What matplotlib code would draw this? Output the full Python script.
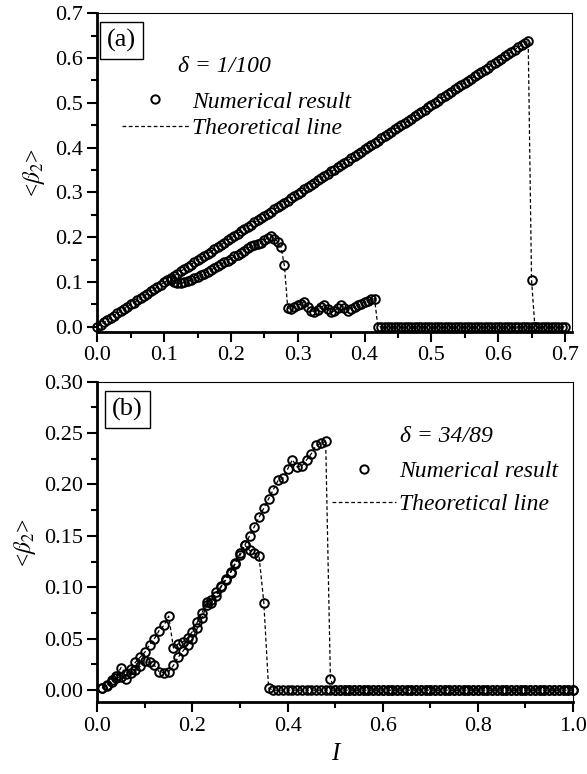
import numpy as np
import matplotlib
matplotlib.use("Agg")
import matplotlib.pyplot as plt
from matplotlib.lines import Line2D
from matplotlib.ticker import MultipleLocator

plt.rcParams['font.family'] = ['Liberation Serif', 'DejaVu Serif']
plt.rcParams['mathtext.fontset'] = 'stix'

# ---- panel (a), delta = 1/100, step 0.005 ----
a_up_x = np.round(np.arange(0, 0.6551, 0.005), 3)
a_up_y = [0.000, 0.005, 0.010, 0.015, 0.020, 0.025, 0.030, 0.035, 0.040, 0.045,
          0.050, 0.054, 0.059, 0.064, 0.069, 0.074, 0.079, 0.084, 0.089, 0.094,
          0.099, 0.104, 0.109, 0.114, 0.119, 0.124, 0.129, 0.134, 0.139, 0.144,
          0.149, 0.153, 0.158, 0.163, 0.168, 0.173, 0.178, 0.183, 0.188, 0.193,
          0.198, 0.203, 0.208, 0.213, 0.218, 0.223, 0.228, 0.233, 0.238, 0.243,
          0.248, 0.252, 0.257, 0.262, 0.267, 0.272, 0.277, 0.282, 0.287, 0.292,
          0.297, 0.302, 0.307, 0.312, 0.317, 0.322, 0.327, 0.332, 0.337, 0.342,
          0.347, 0.351, 0.356, 0.361, 0.366, 0.371, 0.376, 0.381, 0.386, 0.391,
          0.396, 0.401, 0.406, 0.411, 0.416, 0.421, 0.426, 0.431, 0.436, 0.441,
          0.446, 0.450, 0.455, 0.460, 0.465, 0.470, 0.475, 0.480, 0.485, 0.490,
          0.495, 0.500, 0.505, 0.510, 0.515, 0.520, 0.525, 0.530, 0.535, 0.540,
          0.545, 0.549, 0.554, 0.559, 0.564, 0.569, 0.574, 0.579, 0.584, 0.589,
          0.594, 0.599, 0.604, 0.609, 0.614, 0.619, 0.624, 0.629, 0.634, 0.638,
          0.105, 0.000]

a_lo_x = np.round(np.arange(0.11, 0.7001, 0.005), 3)
a_lo_y = [0.105, 0.100, 0.097, 0.097, 0.099, 0.102, 0.105, 0.108, 0.111,
          0.115, 0.119, 0.123, 0.127, 0.131, 0.135, 0.140, 0.144, 0.148, 0.152,
          0.157, 0.161, 0.165, 0.170, 0.175, 0.180, 0.183, 0.185, 0.187, 0.193,
          0.199, 0.202, 0.197, 0.190, 0.178, 0.137, 0.042, 0.040, 0.045, 0.048,
          0.052, 0.056, 0.045, 0.036, 0.034, 0.038, 0.044, 0.048, 0.040, 0.032,
          0.036, 0.042, 0.048, 0.042, 0.036, 0.040, 0.045, 0.049, 0.052, 0.055,
          0.058, 0.061, 0.063] + [0.0] * 57

# ---- panel (b), delta = 34/89, step 0.01 ----
b_up_x = np.round(np.arange(0.01, 1.0001, 0.01), 2)
b_up_y = [0.002, 0.005, 0.010, 0.014, 0.022, 0.016, 0.021, 0.027, 0.032, 0.037,
          0.044, 0.050, 0.058, 0.063, 0.072, 0.041, 0.045, 0.047, 0.051, 0.057,
          0.066, 0.075, 0.086, 0.088, 0.095, 0.101, 0.107, 0.114, 0.123, 0.131,
          0.141, 0.150, 0.159, 0.168, 0.177, 0.186, 0.195, 0.204, 0.206, 0.215,
          0.224, 0.217, 0.218, 0.224, 0.230, 0.238, 0.240, 0.242, 0.011] + [0.0] * 51

b_lo_x = np.round(np.arange(0.01, 1.0001, 0.01), 2)
b_lo_y = [0.002, 0.004, 0.008, 0.012, 0.013, 0.011, 0.017, 0.020, 0.023, 0.028,
          0.027, 0.024, 0.018, 0.017, 0.018, 0.024, 0.032, 0.038, 0.044, 0.050,
          0.060, 0.070, 0.083, 0.085, 0.092, 0.100, 0.108, 0.115, 0.124, 0.133,
          0.141, 0.136, 0.133, 0.130, 0.085, 0.002] + [0.0] * 64

tfont = 16
lfont = 17
dash = (0, (3, 2))


def style_axes(ax):
    for s in ['left', 'bottom']:
        ax.spines[s].set_linewidth(2)
    for s in ['top', 'right']:
        ax.spines[s].set_linewidth(0.8)
    ax.tick_params(which='both', direction='out', top=False, right=False,
                   labelsize=tfont, width=1.5)
    ax.tick_params(which='major', length=7)
    ax.tick_params(which='minor', length=4)


def draw(ax, x, y, ms):
    ax.plot(x, y, ls=dash, lw=0.9, color='k', marker='o', ms=ms,
            mfc='none', mec='k', mew=1.4, clip_on=False, zorder=3)


fig = plt.figure(figsize=(5.87, 7.74), dpi=100)
ax1 = fig.add_axes([0.1658, 0.5714, 0.808, 0.4114])
ax2 = fig.add_axes([0.1658, 0.0924, 0.8104, 0.4145])

# panel (a)
draw(ax1, a_up_x, a_up_y, 6.2)
draw(ax1, a_lo_x, a_lo_y, 6.2)
ax1.set_xlim(0, 0.71)
ax1.set_ylim(-0.011, 0.70)
ax1.xaxis.set_major_locator(MultipleLocator(0.1))
ax1.xaxis.set_minor_locator(MultipleLocator(0.05))
ax1.yaxis.set_major_locator(MultipleLocator(0.1))
ax1.yaxis.set_minor_locator(MultipleLocator(0.05))
ax1.xaxis.set_major_formatter(lambda v, p: f"{v:.1f}")
ax1.yaxis.set_major_formatter(lambda v, p: f"{v:.1f}")
style_axes(ax1)
ax1.set_ylabel(r'<$\beta_2$>', fontsize=lfont, labelpad=6)

# panel (b)
draw(ax2, b_up_x, b_up_y, 6.2)
draw(ax2, b_lo_x, b_lo_y, 6.2)
ax2.set_xlim(0, 1.0)
ax2.set_ylim(-0.012, 0.30)
ax2.xaxis.set_major_locator(MultipleLocator(0.2))
ax2.xaxis.set_minor_locator(MultipleLocator(0.1))
ax2.yaxis.set_major_locator(MultipleLocator(0.05))
ax2.yaxis.set_minor_locator(MultipleLocator(0.025))
ax2.xaxis.set_major_formatter(lambda v, p: f"{v:.1f}")
ax2.yaxis.set_major_formatter(lambda v, p: f"{v:.2f}")
style_axes(ax2)
ax2.set_ylabel(r'<$\beta_2$>', fontsize=lfont, labelpad=4)
ax2.set_xlabel('I', fontsize=18, style='italic', labelpad=5)

# panel tags
ax1.text(0.051, 0.915, '(a)', transform=ax1.transAxes, fontsize=19,
         ha='center', va='center',
         bbox=dict(boxstyle='square,pad=0.27', fc='white', ec='k', lw=1))
ax2.text(0.063, 0.914, '(b)', transform=ax2.transAxes, fontsize=19,
         ha='center', va='center',
         bbox=dict(boxstyle='square,pad=0.27', fc='white', ec='k', lw=1))

# legends
handles = [Line2D([], [], ls='none', marker='o', ms=6, mfc='none', mec='k', mew=1.4),
           Line2D([], [], ls=dash, lw=0.9, color='k')]
labels = ['Numerical result', 'Theoretical line']
prop = {'family': 'Liberation Serif', 'style': 'italic', 'size': lfont}

ax1.text(0.17, 0.832, 'δ = 1/100', transform=ax1.transAxes, fontsize=lfont,
         style='italic', va='center', ha='left')
ax1.legend(handles, labels, prop=prop, frameon=False, loc='upper left',
           bbox_to_anchor=(0.051, 0.756), borderpad=0, borderaxespad=0,
           handlelength=2.84, handletextpad=0.15, labelspacing=0.2)

ax2.text(0.636, 0.829, 'δ = 34/89', transform=ax2.transAxes, fontsize=lfont,
         style='italic', va='center', ha='left')
ax2.legend(handles, labels, prop=prop, frameon=False, loc='upper left',
           bbox_to_anchor=(0.493, 0.754), borderpad=0, borderaxespad=0,
           handlelength=2.7, handletextpad=0.15, labelspacing=0.5)

fig.savefig('out.png', dpi=100)
